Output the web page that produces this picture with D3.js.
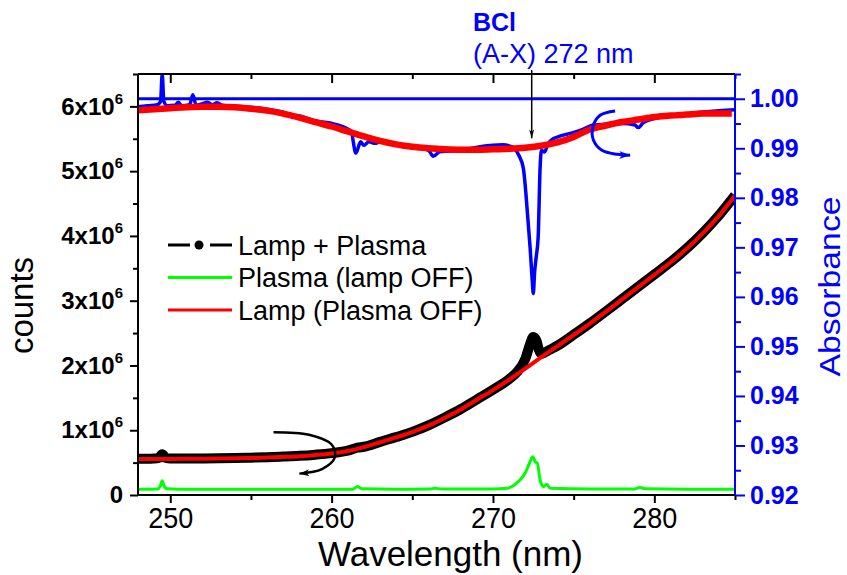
<!DOCTYPE html>
<html>
<head>
<meta charset="utf-8">
<script src="https://cdn.jsdelivr.net/npm/d3@7"></script>
<style>
  body { margin: 0; background: #fff; }
  svg { display: block; font-family: "Liberation Sans", Arial, sans-serif; }
</style>
</head>
<body>
<svg id="chart" width="847" height="575"></svg>
<script>
// ---- data -------------------------------------------------------------
// counts are in units of 10^6

// Lamp (Plasma OFF)
const lampWl = d3.range(248, 286);
const lampCounts = [0.555, 0.556, 0.557, 0.558, 0.560, 0.562, 0.566, 0.571, 0.578, 0.588,
  0.600, 0.618, 0.642, 0.680, 0.740, 0.815, 0.890, 0.970, 1.070, 1.190,
  1.320, 1.470, 1.620, 1.780, 1.950, 2.130, 2.300, 2.470, 2.645, 2.830,
  3.020, 3.210, 3.400, 3.590, 3.800, 4.040, 4.310, 4.620];

// Lamp + Plasma
const lampPlasmaWl = [248, 249, 249.3, 249.5, 249.7, 250, 251, 252, 253, 254, 255, 256, 257,
  258, 259, 260, 261, 261.6, 262, 263, 264, 265, 266, 267, 268, 269, 270, 271, 271.5,
  272, 272.3, 272.5, 272.7, 272.85, 273, 273.2, 273.5, 274, 275, 276, 277, 278, 279,
  280, 281, 282, 283, 284, 285];
const lampPlasmaCounts = [0.560, 0.562, 0.575, 0.630, 0.575, 0.563, 0.563, 0.565, 0.567,
  0.571, 0.576, 0.583, 0.593, 0.605, 0.623, 0.647, 0.685, 0.730, 0.745, 0.820, 0.895,
  0.975, 1.075, 1.195, 1.325, 1.475, 1.625, 1.790, 1.900, 2.100, 2.330, 2.440, 2.380,
  2.240, 2.180, 2.200, 2.240, 2.305, 2.475, 2.650, 2.835, 3.025, 3.215, 3.405, 3.595,
  3.805, 4.045, 4.315, 4.625];

// Plasma (lamp OFF)
const plasmaWl = [248, 249.2, 249.4, 249.5, 249.6, 249.8, 250.5, 255, 261.3, 261.6, 261.9,
  264, 266.1, 266.4, 266.8, 270, 270.85, 271.57, 271.99, 272.26, 272.47, 272.61, 272.75,
  272.92, 273.12, 273.33, 273.54, 276, 278.8, 279.1, 279.5, 282, 285];
const plasmaCounts = [0.088, 0.092, 0.150, 0.220, 0.150, 0.095, 0.090, 0.088, 0.090, 0.130,
  0.095, 0.090, 0.092, 0.105, 0.092, 0.092, 0.103, 0.206, 0.335, 0.490, 0.592, 0.515,
  0.490, 0.232, 0.129, 0.165, 0.103, 0.092, 0.094, 0.115, 0.095, 0.090, 0.090];

// absorbance spectrum
const absWl = [248.0, 248.6, 249.2, 249.4, 249.5, 249.6, 249.8, 250.3, 250.5, 250.7, 251.2,
  251.4, 251.6, 252.0, 252.3, 252.6, 252.9, 253.2, 254.0, 256.0, 257.4, 257.6, 257.8,
  259.0, 259.9, 261.2, 261.5, 261.8, 262.0, 262.3, 262.7, 263.0, 264.0, 265.0, 266.0,
  266.3, 266.7, 268.0, 269.2, 270.6, 271.2, 271.6, 271.88, 272.17, 272.3, 272.42, 272.5,
  272.58, 272.67, 272.8, 272.92, 273.0, 273.2, 273.4, 273.6, 274.3, 274.8, 275.4, 276.2,
  278.0, 278.8, 279.0, 279.3, 280.0, 282.0, 284.0, 285.0];
const absValues = [0.9984, 0.9986, 0.9988, 0.9995, 1.0050, 0.9995, 0.9986, 0.9987, 0.9993,
  0.9986, 0.9988, 1.0008, 0.9987, 0.9990, 0.9993, 0.9988, 0.9992, 0.9987, 0.9985, 0.9979,
  0.9968, 0.9962, 0.9966, 0.9955, 0.9951, 0.9935, 0.98905, 0.9913, 0.9906, 0.9913, 0.9910,
  0.9913, 0.9909, 0.9903, 0.9896, 0.9884, 0.9893, 0.9896, 0.9903, 0.9907, 0.9903, 0.9886,
  0.9860, 0.9755, 0.9700, 0.9640, 0.9607, 0.9650, 0.9678, 0.9720, 0.9860, 0.9896, 0.98925,
  0.9908, 0.9916, 0.9926, 0.9930, 0.9936, 0.99465, 0.9950, 0.9947, 0.99418, 0.99511,
  0.9960, 0.9970, 0.9976, 0.9978];

// smooth baseline under the absorbance spectrum
const baselineWl = d3.range(248, 285).concat([284.8]);
const baselineAbs = [0.9977, 0.9979, 0.9981, 0.9983, 0.9984, 0.9984, 0.9983, 0.9980, 0.9976,
  0.9970, 0.9962, 0.9953, 0.9944, 0.9934, 0.9924, 0.9915, 0.9908, 0.9903, 0.9900, 0.9898,
  0.9897, 0.9897, 0.9898, 0.9899, 0.9901, 0.9905, 0.9912, 0.9923, 0.9938, 0.9946, 0.9953,
  0.9958, 0.9963, 0.9966, 0.9968, 0.9970, 0.9970, 0.9970];

const absReference = 1.0;

// ticks
const xMajor = [250, 260, 270, 280];
const xMinor = [255, 265, 275, 285];
const countsMajor = [0, 1, 2, 3, 4, 5, 6];
const countsMinor = [0.5, 1.5, 2.5, 3.5, 4.5, 5.5, 6.5];
const absMajor = [0.92, 0.93, 0.94, 0.95, 0.96, 0.97, 0.98, 0.99, 1.00];
const absMinor = [0.925, 0.935, 0.945, 0.955, 0.965, 0.975, 0.985, 0.995, 1.005];

const legendItems = [
  { label: "Lamp + Plasma", color: "#000", dot: true },
  { label: "Plasma (lamp OFF)", color: "#00ff00" },
  { label: "Lamp (Plasma OFF)", color: "#ff0000" }
];

// ---- layout -----------------------------------------------------------
const W = 847, H = 575;
const m = { left: 138, right: 112, top: 74, bottom: 80 };
const BLUE = "#0000ff";

const svg = d3.select("#chart");

const x = d3.scaleLinear().domain([248, 285]).range([m.left, W - m.right]);
const yL = d3.scaleLinear().domain([0, 6.5]).range([H - m.bottom, m.top]);
const yR = d3.scaleLinear().domain([0.92, 1.005]).range([H - m.bottom, m.top]);

const defs = svg.append("defs");
defs.append("clipPath").attr("id", "plot")
  .append("rect")
  .attr("x", m.left).attr("y", m.top)
  .attr("width", W - m.left - m.right).attr("height", H - m.top - m.bottom);

[["headBlack", "#000", 10, 7], ["headBlue", BLUE, 11, 8], ["headThin", "#000", 9, 5]]
  .forEach(([id, c, w, h]) => {
    defs.append("marker")
      .attr("id", id).attr("viewBox", `0 0 ${w} ${h}`)
      .attr("refX", w).attr("refY", h / 2)
      .attr("markerWidth", w).attr("markerHeight", h)
      .attr("markerUnits", "userSpaceOnUse")
      .attr("orient", "auto")
      .append("path").attr("d", `M0,0L${w},${h / 2}L0,${h}L${w * 0.3},${h / 2}Z`).attr("fill", c);
  });

const plot = svg.append("g").attr("clip-path", "url(#plot)");

const lineL = d3.line().x(d => x(d[0])).y(d => yL(d[1])).curve(d3.curveMonotoneX);
const lineR = d3.line().x(d => x(d[0])).y(d => yR(d[1])).curve(d3.curveMonotoneX);
const zip = (a, b) => a.map((v, i) => [v, b[i]]);

// counts curves
plot.append("path").datum(zip(plasmaWl, plasmaCounts))
  .attr("d", lineL).attr("fill", "none").attr("stroke", "#00ff00").attr("stroke-width", 3);
plot.append("path").datum(zip(lampPlasmaWl, lampPlasmaCounts))
  .attr("d", lineL).attr("fill", "none").attr("stroke", "#000").attr("stroke-width", 10)
  .attr("stroke-linejoin", "round");
plot.append("circle").attr("cx", x(249.5)).attr("cy", yL(0.6)).attr("r", 6).attr("fill", "#000");
plot.append("path").datum(zip(lampWl, lampCounts))
  .attr("d", lineL).attr("fill", "none").attr("stroke", "#ff0000").attr("stroke-width", 4);

// absorbance
plot.append("line")
  .attr("x1", m.left).attr("x2", W - m.right)
  .attr("y1", yR(absReference)).attr("y2", yR(absReference))
  .attr("stroke", BLUE).attr("stroke-width", 3);
plot.append("path").datum(zip(absWl, absValues))
  .attr("d", lineR).attr("fill", "none").attr("stroke", BLUE).attr("stroke-width", 3.5)
  .attr("stroke-linejoin", "round");
plot.append("path").datum(zip(baselineWl, baselineAbs))
  .attr("d", lineR).attr("fill", "none").attr("stroke", "#ff0000").attr("stroke-width", 6.5);

// ---- axes ---------------------------------------------------------------
const bottom = H - m.bottom, right = W - m.right;

function tickGroup(axis, tx, ty, color) {
  const g = svg.append("g").attr("transform", `translate(${tx},${ty})`).call(axis);
  g.select(".domain").remove();
  g.selectAll(".tick line").attr("stroke", color).attr("stroke-width", 2);
  return g;
}

// bottom (condensed labels)
const gx = tickGroup(d3.axisBottom(x).tickValues(xMajor).tickSize(8).tickPadding(4), 0, bottom, "#000");
gx.selectAll("text").attr("font-size", 30).attr("fill", "#000")
  .attr("textLength", 45).attr("lengthAdjust", "spacingAndGlyphs");
tickGroup(d3.axisBottom(x).tickValues(xMinor).tickSize(5).tickFormat(""), 0, bottom, "#000");
// top (inside)
tickGroup(d3.axisTop(x).tickValues(xMajor).tickSize(-9).tickFormat(""), 0, m.top, "#000");
tickGroup(d3.axisTop(x).tickValues(xMinor).tickSize(-5).tickFormat(""), 0, m.top, "#000");

// left counts
const gy = tickGroup(d3.axisLeft(yL).tickValues(countsMajor).tickSize(8).tickPadding(7), m.left, 0, "#000");
gy.selectAll("text")
  .attr("font-size", 24).attr("font-weight", "bold").attr("fill", "#000")
  .each(function (d) {
    const t = d3.select(this).text(null);
    if (d === 0) { t.text("0"); return; }
    t.append("tspan").text(`${d}x10`);
    t.append("tspan").attr("dy", -11).attr("font-size", 15).text("6");
  });
tickGroup(d3.axisLeft(yL).tickValues(countsMinor).tickSize(5).tickFormat(""), m.left, 0, "#000");

// right absorbance
const gr = tickGroup(d3.axisRight(yR).tickValues(absMajor).tickSize(10).tickPadding(5)
  .tickFormat(d3.format(".2f")), right, 0, BLUE);
gr.selectAll("text").attr("font-size", 25).attr("font-weight", "bold").attr("fill", BLUE);
tickGroup(d3.axisRight(yR).tickValues(absMinor).tickSize(6).tickFormat(""), right, 0, BLUE);

// frame
svg.append("path").attr("d", `M${m.left},${bottom}H${right}M${m.left},${m.top}H${right}M${m.left},${m.top}V${bottom}`)
  .attr("stroke", "#000").attr("stroke-width", 2).attr("fill", "none");
svg.append("line").attr("x1", right).attr("x2", right).attr("y1", m.top).attr("y2", bottom)
  .attr("stroke", BLUE).attr("stroke-width", 2);

// titles
svg.append("text")
  .attr("x", (m.left + right) / 2 + 14).attr("y", 566)
  .attr("text-anchor", "middle").attr("font-size", 35)
  .attr("textLength", 265).attr("lengthAdjust", "spacingAndGlyphs")
  .text("Wavelength (nm)");
svg.append("text")
  .attr("transform", `translate(33,${(m.top + bottom) / 2 + 21}) rotate(-90)`)
  .attr("text-anchor", "middle").attr("font-size", 33).text("counts");
svg.append("text")
  .attr("transform", `translate(840,${(m.top + bottom) / 2 + 2}) rotate(-90)`)
  .attr("text-anchor", "middle").attr("font-size", 30).attr("fill", BLUE)
  .attr("textLength", 180).attr("lengthAdjust", "spacingAndGlyphs")
  .text("Absorbance");

// ---- legend -------------------------------------------------------------
const legend = svg.append("g").attr("transform", "translate(168,245)");
legendItems.forEach((it, i) => {
  const g = legend.append("g").attr("transform", `translate(0,${i * 32.5})`);
  g.append("line").attr("x1", 0).attr("x2", 64).attr("stroke", it.color).attr("stroke-width", 3);
  if (it.dot) {
    g.append("line").attr("x1", 22).attr("x2", 42).attr("stroke", "#fff").attr("stroke-width", 5);
    g.append("circle").attr("cx", 31).attr("r", 4.5).attr("fill", it.color);
  }
  g.append("text").attr("x", 70).attr("dy", "0.36em").attr("font-size", 27).text(it.label);
});

// ---- annotations ----------------------------------------------------------
svg.append("text").attr("x", 473).attr("y", 31)
  .attr("font-size", 25).attr("font-weight", "bold").attr("fill", BLUE).text("BCl");
svg.append("text").attr("x", 473).attr("y", 63)
  .attr("font-size", 27).attr("fill", BLUE).text("(A-X) 272 nm");

svg.append("line")
  .attr("x1", x(272.4)).attr("x2", x(272.4))
  .attr("y1", yR(1.0058)).attr("y2", yR(0.9920))
  .attr("stroke", "#000").attr("stroke-width", 1.5).attr("marker-end", "url(#headThin)");

// arrow pointing the counts curves to the left axis
const arrowL = [[256.4, 0.97], [258.6, 0.93], [260.0, 0.78], [260.2, 0.58], [259.4, 0.40], [258.0, 0.33]];
svg.append("path").datum(arrowL)
  .attr("d", d3.line().x(d => x(d[0])).y(d => yL(d[1])).curve(d3.curveCatmullRom))
  .attr("fill", "none").attr("stroke", "#000").attr("stroke-width", 2.5)
  .attr("marker-end", "url(#headBlack)");

// arrow pointing the absorbance curve to the right axis
const arrowR = [[277.57, 0.99754], [276.64, 0.99667], [276.19, 0.9943], [276.23, 0.99162],
  [276.75, 0.9896], [277.68, 0.98879], [278.5, 0.98859]];
svg.append("path").datum(arrowR)
  .attr("d", d3.line().x(d => x(d[0])).y(d => yR(d[1])).curve(d3.curveCatmullRom))
  .attr("fill", "none").attr("stroke", BLUE).attr("stroke-width", 3)
  .attr("marker-end", "url(#headBlue)");
</script>
</body>
</html>
